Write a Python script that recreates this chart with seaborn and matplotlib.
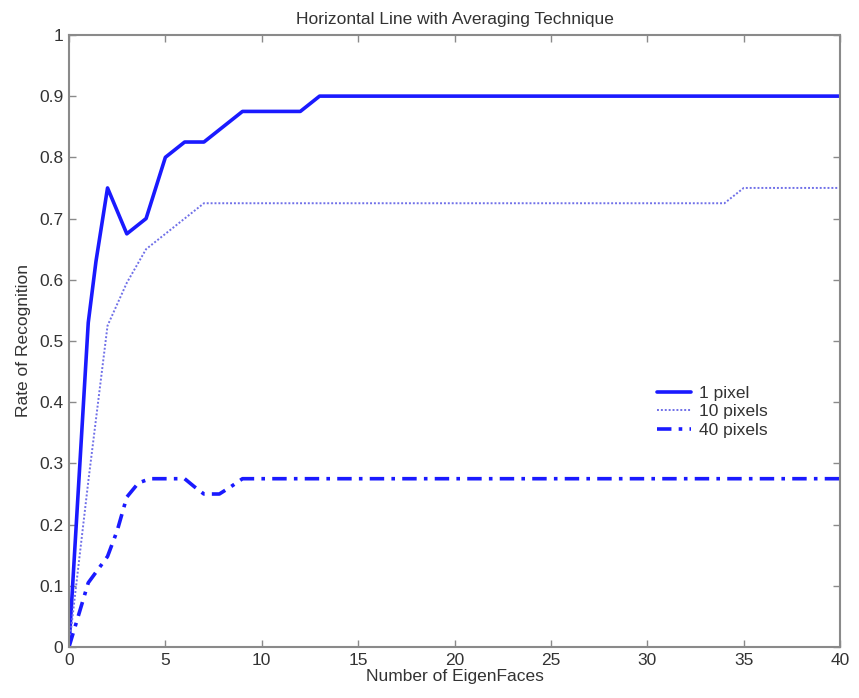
import numpy as np
import pandas as pd
import matplotlib
matplotlib.use("Agg")
import matplotlib.pyplot as plt
import seaborn as sns

sns.set_style("white")
plt.rcParams['font.family'] = ['Liberation Sans', 'DejaVu Sans']

# 1 pixel (solid)
x_1px = [0, 1, 1.4, 2, 3, 4, 5, 6, 7, 8, 9, 12, 13, 40]
y_1px = [0, 0.53, 0.63, 0.75, 0.675, 0.70, 0.80, 0.825, 0.825, 0.85, 0.875, 0.875, 0.90, 0.90]

# 10 pixels (dotted)
x_10px = [0, 1, 2, 3, 4, 5, 6, 7, 34, 35, 40]
y_10px = [0, 0.27, 0.525, 0.595, 0.65, 0.675, 0.70, 0.725, 0.725, 0.75, 0.75]

# 40 pixels (dash-dot)
x_40px = [0, 1, 2, 2.5, 3, 3.6, 4.2, 6, 6.5, 7, 7.8, 8.4, 9, 40]
y_40px = [0, 0.105, 0.148, 0.19, 0.245, 0.268, 0.275, 0.275, 0.262, 0.25, 0.25, 0.262, 0.275, 0.275]

title = "Horizontal Line with Averaging Technique"
xlabel = "Number of EigenFaces"
ylabel = "Rate of Recognition"
x_ticks = [0, 5, 10, 15, 20, 25, 30, 35, 40]
y_ticks = [0, 0.1, 0.2, 0.3, 0.4, 0.5, 0.6, 0.7, 0.8, 0.9, 1]
y_tick_labels = ["0", "0.1", "0.2", "0.3", "0.4", "0.5", "0.6", "0.7", "0.8", "0.9", "1"]

fig = plt.figure(figsize=(8.59, 6.98), dpi=100)
ax = fig.add_axes([0.0803, 0.073, 0.8977, 0.877])

blue = "#1a1aff"
text_col = "#333333"
axis_col = "#8a8a8a"
fs = 12.5

sns.lineplot(x=x_1px, y=y_1px, ax=ax, color=blue, linewidth=2.6,
             label="1 pixel", sort=False)
sns.lineplot(x=x_10px, y=y_10px, ax=ax, color="#7070e8", linewidth=1.4,
             linestyle=(0, (1, 1)), label="10 pixels", sort=False)
sns.lineplot(x=x_40px, y=y_40px, ax=ax, color=blue, linewidth=2.6,
             linestyle=(0, (4, 2, 1, 2)), label="40 pixels", sort=False)

ax.set_xlim(0, 40)
ax.set_ylim(0, 1)
ax.set_xticks(x_ticks)
ax.set_yticks(y_ticks)
ax.set_yticklabels(y_tick_labels)
ax.tick_params(direction="in", length=5, width=1, colors=axis_col,
               labelcolor=text_col, labelsize=fs, top=True, right=True,
               bottom=True, left=True, pad=4)
for sp in ax.spines.values():
    sp.set_color(axis_col)
    sp.set_linewidth(1.5)

ax.set_title(title, fontsize=12.5, color=text_col, pad=8)
ax.set_xlabel(xlabel, fontsize=fs, color=text_col, labelpad=1)
ax.set_ylabel(ylabel, fontsize=fs, color=text_col, labelpad=6)

leg = ax.legend(loc="upper left", bbox_to_anchor=(0.762, 0.427), frameon=False,
                fontsize=fs, handlelength=2.0, labelspacing=0.2,
                handletextpad=0.45, borderpad=0, borderaxespad=0)
for t in leg.get_texts():
    t.set_color(text_col)

fig.savefig("out.png", dpi=100)
